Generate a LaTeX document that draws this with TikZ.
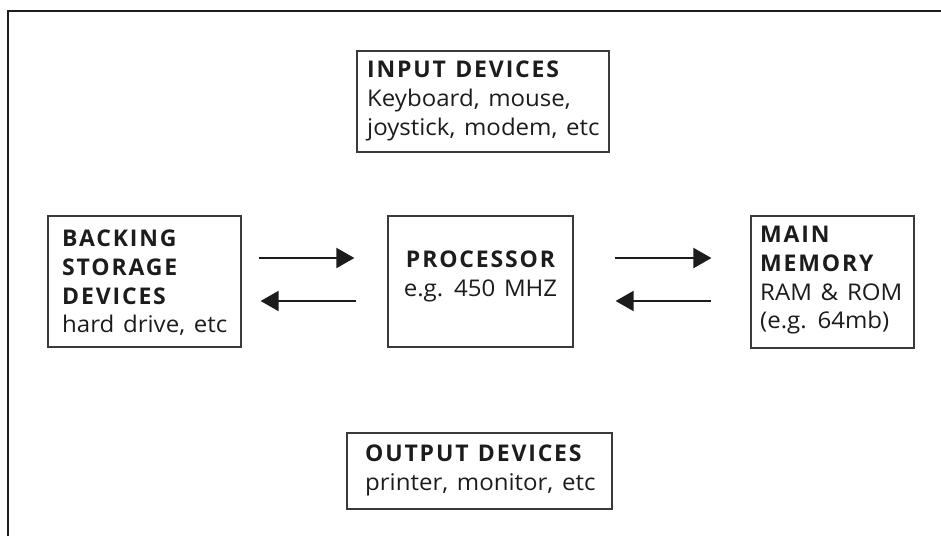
\documentclass[tikz,border=0pt]{standalone}
\usepackage{fontspec}
\setmainfont{Open Sans}[WordSpace=1.4,FakeStretch=1.045]
\newfontfamily\hdfont{Open Sans}[LetterSpace=8,WordSpace=1.2]
\usetikzlibrary{arrows.meta}
\definecolor{ink}{HTML}{1C1C1C}
\definecolor{edge}{HTML}{3A3A3A}
\newcommand\hd[1]{{\hdfont\bfseries #1}}
\tikzset{
  box/.style={draw=edge, line width=1.2pt, rectangle, inner sep=0pt},
  txt/.style={inner sep=0pt, text=ink, align=left, anchor=north west,
              font=\fontsize{23}{28.7}\selectfont},
  ctxt/.style={txt, align=center, anchor=north},
  arr/.style={draw=ink, line width=2pt, -{Triangle[length=18pt,width=20pt]}},
  frame/.style={draw=ink, line width=2pt}
}
\begin{document}
\begin{tikzpicture}[x=1pt,y=-1pt]
\useasboundingbox (0,0) rectangle (941,536);
\draw[frame] (7.5,536) -- (7.5,11) -- (941,11);
% boxes
\node[box, minimum width=252pt, minimum height=101pt] (inp) at (483,101.5) {};
\node[box, minimum width=193pt, minimum height=131pt] (back) at (144.5,281.5) {};
\node[box, minimum width=185pt, minimum height=131pt] (proc) at (480.5,281.5) {};
\node[box, minimum width=163pt, minimum height=132pt] (mem) at (832.5,282) {};
\node[box, minimum width=265pt, minimum height=76pt] (out) at (479.5,471) {};
% texts
\node[txt] (inpt) at (367,61) {\hd{INPUT DEVICES}\\Keyboard, mouse,\\joystick, modem, etc};
\node[txt] (backt) at (62,230) {\hd{BACKING}\\\hd{STORAGE}\\\hd{DEVICES}\\hard drive, etc};
\node[ctxt] (proct) at (480.5,251) {\hd{PROCESSOR}\\e.g. 450 MHZ};
\node[txt] (memt) at (760,226) {\hd{MAIN}\\\hd{MEMORY}\\RAM \& ROM\\(e.g. 64mb)};
\node[txt] (outt) at (365,445) {\hd{OUTPUT DEVICES}\\printer, monitor, etc};
% arrows
\draw[arr, shorten <=17pt, shorten >=33pt] (back.east |- 0,258) -- (proc.west |- 0,258);
\draw[arr, shorten <=31pt, shorten >=19pt] (proc.west |- 0,301) -- (back.east |- 0,301);
\draw[arr, shorten <=41pt, shorten >=39pt] (proc.east |- 0,258) -- (mem.west |- 0,258);
\draw[arr, shorten <=39pt, shorten >=42pt] (mem.west |- 0,301) -- (proc.east |- 0,301);
\end{tikzpicture}
\end{document}
